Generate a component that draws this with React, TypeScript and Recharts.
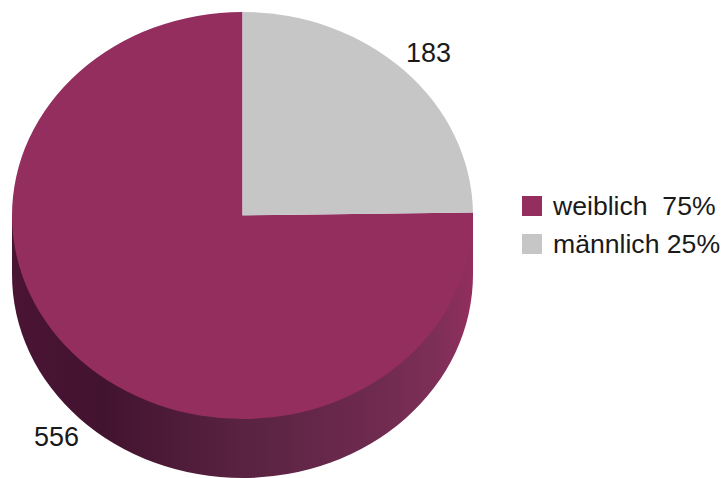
import { Cell, Legend, Pie, PieChart } from "recharts";

const categories = ["weiblich", "männlich"];
const values = [556, 183];
const legendLabels = ["weiblich  75%", "männlich 25%"];
const COLORS = ["#932e5f", "#c6c6c6"];

const chartData = categories.map((name, i) => ({ name, value: values[i], legendLabel: legendLabels[i] }));

// The disc is tilted: vertical radius is squashed and the rim hangs below it
const TILT = 203.5 / 230.5;
const DEPTH = 59;
const RAD = Math.PI / 180;

const point = (cx: number, cy: number, r: number, deg: number) => ({
    x: cx + r * Math.cos(deg * RAD),
    y: cy - r * TILT * Math.sin(deg * RAD),
});

const TiltedSector = (props: any) => {
    const { cx, cy, outerRadius: r, startAngle, endAngle, fill } = props;
    const a = point(cx, cy, r, startAngle);
    const b = point(cx, cy, r, endAngle);
    const ry = r * TILT;
    const large = Math.abs(endAngle - startAngle) > 180 ? 1 : 0;
    const face = `M${cx},${cy}L${a.x},${a.y}A${r},${ry} 0 ${large} 0 ${b.x},${b.y}Z`;

    // Rim only shows on the front half, 180deg to 360deg.
    // Its top is a straight chord hidden behind the face, so no seam shows.
    const wallFrom = Math.max(startAngle, 180);
    const wallTo = Math.min(endAngle, 360);
    let wall = null;
    if (wallTo > wallFrom) {
        const w1 = point(cx, cy, r, wallFrom);
        const w2 = point(cx, cy, r, wallTo);
        const wallLarge = wallTo - wallFrom > 180 ? 1 : 0;
        wall = (
            <path
                d={`M${w1.x},${w1.y}L${w2.x},${w2.y}L${w2.x},${w2.y + DEPTH}A${r},${ry} 0 ${wallLarge} 1 ${w1.x},${w1.y + DEPTH}Z`}
                fill="url(#rimShade)"
            />
        );
    }
    return (
        <g>
            {wall}
            <path d={face} fill={fill} />
        </g>
    );
};

const renderValueLabel = (props: any) => {
    const { cx, cy, outerRadius: r, midAngle, value } = props;
    const x = cx + r * 1.15 * Math.cos(midAngle * RAD);
    const norm = ((midAngle % 360) + 360) % 360;
    const drop = norm > 180 ? DEPTH : 0;
    const y = cy - r * TILT * 1.12 * Math.sin(midAngle * RAD) + drop;
    return (
        <text x={x} y={y} textAnchor="middle" dominantBaseline="central" fontSize={27} fill="#1a1a1a">
            {value}
        </text>
    );
};

const renderLegend = (props: any) => (
    <div>
        {(props.payload || []).map((entry: any) => (
            <div key={entry.value} style={{ display: "flex", alignItems: "center", height: 38 }}>
                <span style={{ width: 20, height: 20, background: entry.color, marginRight: 11 }} />
                <span style={{ fontSize: 26.6, color: "#1a1a1a", whiteSpace: "pre" }}>{entry.value}</span>
            </div>
        ))}
    </div>
);

export default function App() {
    return (
        <div style={{ position: "fixed", left: 0, top: 0, background: "#fff", fontFamily: "'Liberation Sans', Arial, sans-serif" }}>
            <PieChart width={727} height={478} margin={{ top: 0, right: 0, bottom: 0, left: 0 }}>
                <defs>
                    <linearGradient id="rimShade" x1="0" y1="0" x2="1" y2="0">
                        <stop offset="0%" stopColor="#4a1434" />
                        <stop offset="20%" stopColor="#42132f" />
                        <stop offset="50%" stopColor="#592341" />
                        <stop offset="78%" stopColor="#6e2a4f" />
                        <stop offset="93%" stopColor="#7f2f58" />
                        <stop offset="100%" stopColor="#932e5f" />
                    </linearGradient>
                </defs>
                <Pie
                    data={chartData}
                    dataKey="value"
                    nameKey="legendLabel"
                    cx={242.5}
                    cy={215.5}
                    outerRadius={230.5}
                    startAngle={90}
                    endAngle={450}
                    paddingAngle={0}
                    stroke="none"
                    shape={TiltedSector}
                    label={renderValueLabel}
                    labelLine={false}
                    isAnimationActive={false}
                >
                    {chartData.map((_, index) => (
                        <Cell key={`slice-${index}`} fill={COLORS[index]} />
                    ))}
                </Pie>
                <Legend
                    layout="vertical"
                    content={renderLegend}
                    itemSorter={null}
                    wrapperStyle={{ position: "absolute", left: 522, top: 187, width: 205 }}
                />
            </PieChart>
        </div>
    );
}
